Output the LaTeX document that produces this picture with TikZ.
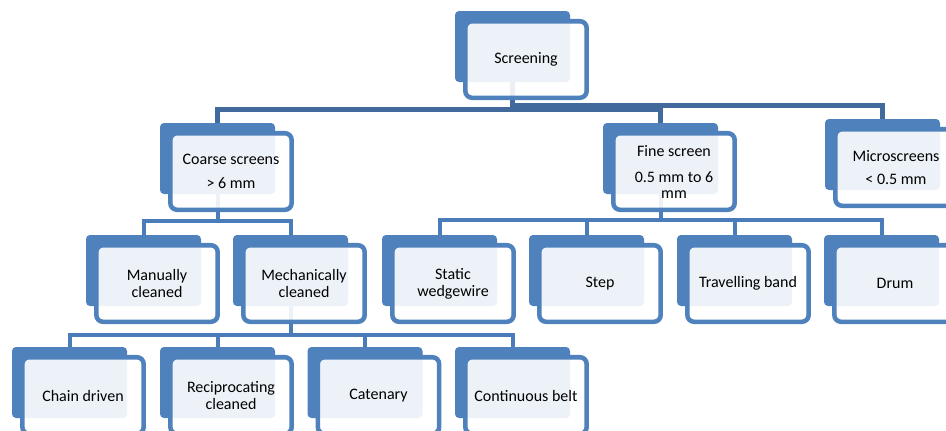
\documentclass[tikz,border=0pt]{standalone}
\usepackage{fontspec}
\setmainfont{Carlito}

\definecolor{boxblue}{HTML}{4F81BD}
\definecolor{linkdark}{HTML}{41699C}
\definecolor{linkblue}{HTML}{4A7CB9}

\begin{document}
\begin{tikzpicture}[
  x=0.75pt, y=-0.75pt,
  font=\fontsize{12}{13}\selectfont,
  backbox/.style={fill=boxblue, rounded corners=3pt, minimum width=86.25pt,
                  minimum height=53.25pt, inner sep=0pt},
  frontbox/.style={draw=boxblue, line width=3.4pt, fill=white, fill opacity=0.9,
                   text opacity=1, rounded corners=5pt, minimum width=91pt,
                   minimum height=57.4pt, inner sep=0pt, align=center},
  toplink/.style={draw=linkdark, line width=3.75pt},
  link/.style={draw=linkblue, line width=3pt}
]
\useasboundingbox (0,0) rectangle (946,430);
\clip (0,0) rectangle (946,430);

% back boxes
\node[backbox] (scr) at (512.5,46.5) {};

\node[backbox] (coarse) at (217.5,158.5) {};
\node[backbox] (fine)   at (660.5,158.5) {};
\node[backbox] (micro)  at (882.5,154.5) {};

\node[backbox] (manual)  at (143.5,270.5) {};
\node[backbox] (mech)    at (290.5,270.5) {};
\node[backbox] (static)  at (439.5,270.5) {};
\node[backbox] (stepscr) at (586.5,270.5) {};
\node[backbox] (band)    at (734.5,270.5) {};
\node[backbox] (drum)    at (881.5,270.5) {};

\node[backbox] (chain) at (69.5,382.5) {};
\node[backbox] (recip) at (217.5,382.5) {};
\node[backbox] (caten) at (365,382.5) {};
\node[backbox] (belt)  at (512.5,382.5) {};

% connectors
\draw[toplink] (scr.south) -- ++(0,27.5) -| (coarse.north);
\draw[toplink] (scr.south) -- ++(0,27.5) -| (fine.north);
\draw[toplink] (scr.south) -- ++(0,23) -| (micro.north);

\foreach \p/\c/\h in {coarse/manual/27, coarse/mech/27,
                      fine/static/26, fine/stepscr/26, fine/band/26, fine/drum/26,
                      mech/chain/28.5, mech/recip/28.5, mech/caten/28.5, mech/belt/28.5} {
  \draw[link] (\p.south) -- ++(0,\h) -| (\c.north);
}

% front boxes with the labels
\node[frontbox] (scr-t) at (526,59.5) {Screening};

\node[frontbox] (coarse-t) at (231,171.5) {Coarse screens\\[5.5pt]> 6 mm};
\node[frontbox] (fine-t)   at (674,171.5) {Fine screen\\[7pt]0.5 mm to 6\\[-1.5pt]mm};
\node[frontbox] (micro-t)  at (896,167.5) {Microscreens\\[4pt]< 0.5 mm};

\node[frontbox] (manual-t)  at (157,283.5) {Manually\\cleaned};
\node[frontbox] (mech-t)    at (304,283.5) {Mechanically\\cleaned};
\node[frontbox] (static-t)  at (453,283.5) {Static\\wedgewire};
\node[frontbox] (stepscr-t) at (600,283.5) {Step};
\node[frontbox] (band-t)    at (748,283.5) {Travelling band};
\node[frontbox] (drum-t)    at (895,283.5) {Drum};

\node[frontbox] (chain-t) at (83,395.5)    {Chain driven};
\node[frontbox] (recip-t) at (231,395.5)   {Reciprocating\\cleaned};
\node[frontbox] (caten-t) at (378.5,395.5) {Catenary};
\node[frontbox] (belt-t)  at (526,395.5)   {Continuous belt};
\end{tikzpicture}
\end{document}
